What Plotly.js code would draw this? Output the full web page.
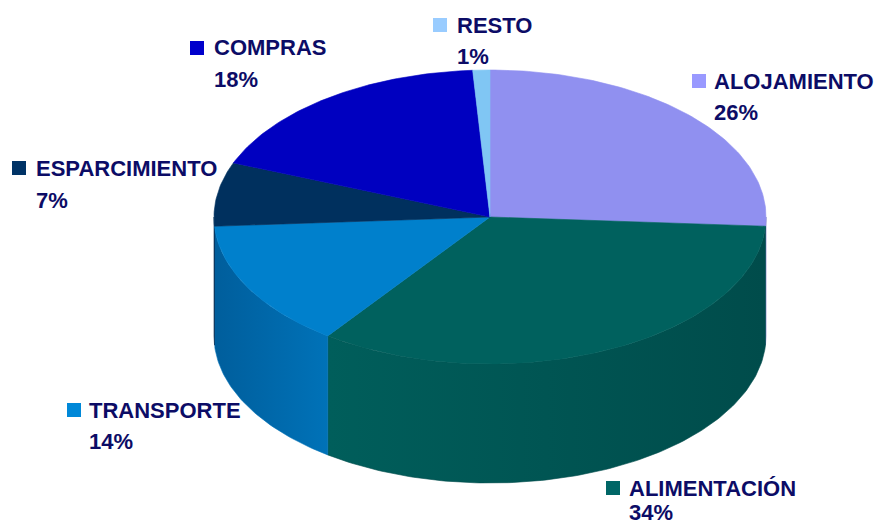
<!DOCTYPE html>
<html><head><meta charset="utf-8">
<script src="https://cdn.plot.ly/plotly-3.0.1.min.js"></script>
<style>html,body{margin:0;padding:0;background:#fff}#chart{width:882px;height:528px}</style>
</head><body><div id="chart"></div>
<script>
// ---- data (clockwise from 12 o'clock) ----
const categories = ['ALOJAMIENTO', 'ALIMENTACIÓN', 'TRANSPORTE', 'ESPARCIMIENTO', 'COMPRAS', 'RESTO'];
const shares = [26, 34, 14, 7, 18, 1];
const pctLabels = ['26%', '34%', '14%', '7%', '18%', '1%'];

// ---- styles ----
const topColors = ['#9090f0', '#00615e', '#0080cc', '#00305e', '#0000c0', '#80c6f4'];
const sideLeft  = ['#7474c8', '#005e5b', '#005e9c', '#002a52', '#0000a0', '#6aa8d0'];
const sideRight = ['#6a6ab8', '#004c4b', '#0072b8', '#002a52', '#0000a0', '#6aa8d0'];
const keyColors = ['#9999ff', '#006666', '#0088d8', '#003366', '#0000cc', '#99ccff'];
const textColor = '#0c0c66';

// ---- geometry (pixel space) ----
const geom = {cx: 490, cy: 217, rx: 276, ry: 147, depth: 119};
const labelPos = [
  {sq: [692, 74], tx: 713, y1: 81, y2: 112},
  {sq: [606, 481], tx: 628, y1: 488, y2: 512},
  {sq: [67, 403], tx: 88, y1: 410.5, y2: 441},
  {sq: [12, 161], tx: 35, y1: 168.5, y2: 200},
  {sq: [190, 41], tx: 213, y1: 47, y2: 79},
  {sq: [433, 18], tx: 456, y1: 25, y2: 56}
];

function pt(deg, dy) {
  const t = deg * Math.PI / 180;
  return [geom.cx + geom.rx * Math.sin(t), geom.cy - geom.ry * Math.cos(t) + (dy || 0)];
}
function arc(a0, a1, dy) {
  const pts = [];
  const n = Math.max(2, Math.ceil(Math.abs(a1 - a0)));
  for (let i = 0; i <= n; i++) pts.push(pt(a0 + (a1 - a0) * i / n, dy));
  return pts;
}

const total = shares.reduce((a, b) => a + b, 0);
const bounds = [];
let acc = 0;
shares.forEach(v => { const a0 = acc / total * 360; acc += v; bounds.push([a0, acc / total * 360]); });

const traces = [];
// side faces (front half only: 90..270 deg)
bounds.forEach((b, i) => {
  const s = Math.max(b[0], 90), e = Math.min(b[1], 270);
  if (e <= s) return;
  const top = arc(s, e, 0);
  const bot = arc(e, s, geom.depth);
  const all = top.concat(bot);
  all.push(top[0]);
  traces.push({
    type: 'scatter', mode: 'lines', fill: 'toself',
    x: all.map(p => p[0]), y: all.map(p => p[1]),
    line: {width: 0.6, color: sideRight[i]},
    fillcolor: sideLeft[i],
    fillgradient: {type: 'horizontal', colorscale: [[0, sideLeft[i]], [1, sideRight[i]]]},
    hoverinfo: 'skip', showlegend: false
  });
});
// top faces
bounds.forEach((b, i) => {
  const pts = [[geom.cx, geom.cy]].concat(arc(b[0], b[1], 0));
  pts.push([geom.cx, geom.cy]);
  traces.push({
    type: 'scatter', mode: 'lines', fill: 'toself',
    x: pts.map(p => p[0]), y: pts.map(p => p[1]),
    line: {width: 0.6, color: topColors[i]},
    fillcolor: topColors[i],
    name: categories[i],
    hoverinfo: 'skip', showlegend: false
  });
});

const font = {family: 'Liberation Sans, Arial, sans-serif', size: 22, color: textColor, weight: 'bold'};
const annotations = [];
const shapes = [];
categories.forEach((c, i) => {
  const L = labelPos[i];
  shapes.push({type: 'rect', xref: 'x', yref: 'y', x0: L.sq[0], x1: L.sq[0] + 14, y0: L.sq[1], y1: L.sq[1] + 14,
    fillcolor: keyColors[i], line: {width: 0}});
  annotations.push({xref: 'x', yref: 'y', x: L.tx - 1, y: L.y1, xanchor: 'left', yanchor: 'middle',
    text: c, showarrow: false, font: font});
  annotations.push({xref: 'x', yref: 'y', x: L.tx - 1, y: L.y2, xanchor: 'left', yanchor: 'middle',
    text: pctLabels[i], showarrow: false, font: font});
});

const layout = {
  width: 882, height: 528,
  margin: {l: 0, r: 0, t: 0, b: 0},
  paper_bgcolor: '#ffffff', plot_bgcolor: '#ffffff',
  xaxis: {range: [0, 882], visible: false, fixedrange: true},
  yaxis: {range: [528, 0], visible: false, fixedrange: true},
  showlegend: false, hovermode: false,
  annotations: annotations, shapes: shapes
};
Plotly.newPlot('chart', traces, layout, {displayModeBar: false, staticPlot: true});
</script>
</body></html>
